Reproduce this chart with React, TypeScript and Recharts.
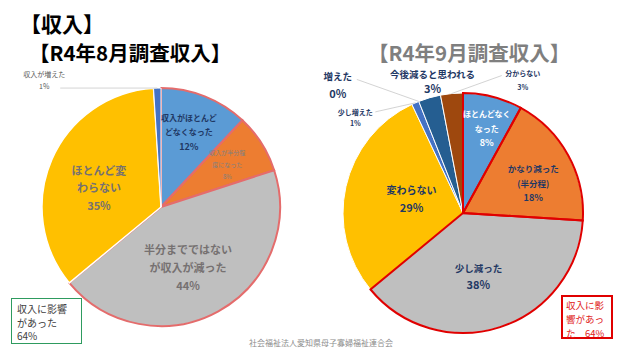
import React from 'react'
import { PieChart, Pie, Cell } from 'recharts'

const FONT = '"Noto Sans CJK JP", "Noto Sans", sans-serif'
const NAVY = '#1F3864'

// R4年8月調査
const AUG_CATEGORIES = [
  '収入がほとんどなくなった',
  '収入が半分程度になった',
  '半分までではないが収入が減った',
  'ほとんど変わらない',
  '収入が増えた',
]
const AUG_VALUES = [12, 8, 44, 35, 1]
const AUG_LABEL_LINES = [
  ['収入がほとんど', 'どなくなった'],
  ['収入が半分程', '度になった'],
  ['半分までではない', 'が収入が減った'],
  ['ほとんど変', 'わらない'],
  ['収入が増えた'],
]
const AUG_COLORS = ['#5B9BD5', '#ED7D31', '#BFBFBF', '#FFC000', '#4472C4']

// R4年9月調査
const SEP_CATEGORIES = [
  'ほとんどなくなった',
  'かなり減った（半分程）',
  '少し減った',
  '変わらない',
  '少し増えた',
  '増えた',
  '今後減ると思われる',
  '分からない',
]
const SEP_VALUES = [8, 18, 38, 29, 1, 0, 3, 3]
const SEP_LABEL_LINES = [
  ['ほとんどなく', 'なった'],
  ['かなり減った', '(半分程)'],
  ['少し減った'],
  ['変わらない'],
  ['少し増えた'],
  ['増えた'],
  ['今後減ると思われる'],
  ['分からない'],
]
const SEP_COLORS = ['#5B9BD5', '#ED7D31', '#BFBFBF', '#FFC000', '#4472C4', '#A5A5A5', '#255E91', '#9E480E']

const augData = AUG_CATEGORIES.map((name, i) => ({ name, value: AUG_VALUES[i] }))
const sepData = SEP_CATEGORIES.map((name, i) => ({ name, value: SEP_VALUES[i] }))

interface LabelStyle {
  f: number
  dx: number
  dy: number
  size: number
  pctSize?: number
  color: string
  weight: number
  gap: number
  leader?: [number, number]
}

const AUG_LABEL_STYLE: LabelStyle[] = [
  { f: 0.66, dx: -1, dy: -2, size: 8, pctSize: 9, color: NAVY, weight: 700, gap: 14.5 },
  { f: 0.66, dx: 0, dy: 0, size: 6, color: '#808080', weight: 400, gap: 12 },
  { f: 0.56, dx: -5, dy: 2, size: 11, color: '#767171', weight: 700, gap: 18 },
  { f: 0.55, dx: -2, dy: 6, size: 11, color: '#767171', weight: 700, gap: 17.5 },
  { f: 1, dx: -113, dy: -8, size: 7, color: '#595959', weight: 400, gap: 12, leader: [-97, 0] },
]

const SEP_LABEL_STYLE: LabelStyle[] = [
  { f: 0.73, dx: 2, dy: 0, size: 8, pctSize: 9, color: '#FFFFFF', weight: 700, gap: 14.5 },
  { f: 0.63, dx: 4, dy: 6, size: 8.5, pctSize: 9, color: NAVY, weight: 700, gap: 15 },
  { f: 0.55, dx: -5, dy: 0, size: 9.5, pctSize: 11, color: NAVY, weight: 700, gap: 16 },
  { f: 0.44, dx: 0, dy: -3, size: 10, pctSize: 11, color: NAVY, weight: 700, gap: 17 },
  { f: 1, dx: -60, dy: 14.5, size: 7, color: NAVY, weight: 700, gap: 11, leader: [-40, 9] },
  { f: 1, dx: -81, dy: -17, size: 9.5, pctSize: 11, color: NAVY, weight: 700, gap: 17, leader: [-62, -22] },
  { f: 1, dx: 3, dy: -17, size: 9.5, pctSize: 11, color: NAVY, weight: 700, gap: 14 },
  { f: 1, dx: 71, dy: -13.5, size: 7, color: NAVY, weight: 700, gap: 14, leader: [50, -18] },
]

function makeLabel(lines: string[][], styles: LabelStyle[]) {
  return (props: any) => {
    const { cx, cy, midAngle, outerRadius, index, value } = props
    const s = styles[index]
    const rad = (midAngle * Math.PI) / 180
    const r = outerRadius * s.f
    const ax = cx + r * Math.cos(rad)
    const ay = cy - r * Math.sin(rad)
    const tx = ax + s.dx
    const ty = ay + s.dy
    const all = [...lines[index], `${value}%`]
    const n = all.length
    return (
      <g key={`lbl-${index}`}>
        {s.leader && (
          <line
            x1={ax}
            y1={ay}
            x2={ax + s.leader[0]}
            y2={ay + s.leader[1]}
            stroke="#C8C8C8"
            strokeWidth={0.8}
          />
        )}
        {all.map((t, i) => (
          <text
            key={i}
            x={tx}
            y={ty + (i - (n - 1) / 2) * s.gap}
            textAnchor="middle"
            dominantBaseline="central"
            fill={s.color}
            fontWeight={s.weight}
            fontFamily={FONT}
            fontSize={i === n - 1 && s.pctSize ? s.pctSize : s.size}
          >
            {t}
          </text>
        ))}
      </g>
    )
  }
}

const AUG_STROKES = ['#E46C6C', '#E46C6C', '#E46C6C', '#FFFFFF', '#FFFFFF']
const AUG_STROKE_W = [2, 2, 2, 1.5, 1]

export default function App() {
  return (
    <div
      style={{
        position: 'absolute',
        left: 0,
        top: 0,
        width: 640,
        height: 360,
        background: '#FFFFFF',
        fontFamily: FONT,
      }}
    >
      <PieChart width={640} height={360} margin={{ top: 0, right: 0, bottom: 0, left: 0 }}>
        <Pie
          data={augData}
          dataKey="value"
          nameKey="name"
          cx={161}
          cy={207}
          outerRadius={119}
          startAngle={90}
          endAngle={-270}
          isAnimationActive={false}
          labelLine={false}
          label={makeLabel(AUG_LABEL_LINES, AUG_LABEL_STYLE)}
        >
          {augData.map((d, i) => (
            <Cell key={d.name} fill={AUG_COLORS[i]} stroke={AUG_STROKES[i]} strokeWidth={AUG_STROKE_W[i]} />
          ))}
        </Pie>
        <Pie
          data={sepData}
          dataKey="value"
          nameKey="name"
          cx={463}
          cy={213}
          outerRadius={120}
          startAngle={90}
          endAngle={-270}
          isAnimationActive={false}
          labelLine={false}
          label={makeLabel(SEP_LABEL_LINES, SEP_LABEL_STYLE)}
        >
          {sepData.map((d, i) => (
            <Cell key={d.name} fill={SEP_COLORS[i]} stroke="#FFFFFF" strokeWidth={1} />
          ))}
        </Pie>
        {/* red outline around the "affected" slices */}
        <Pie
          data={sepData}
          dataKey="value"
          nameKey="name"
          cx={463}
          cy={213}
          outerRadius={120}
          startAngle={90}
          endAngle={-270}
          isAnimationActive={false}
          labelLine={false}
          label={false}
        >
          {sepData.map((d, i) => (
            <Cell
              key={d.name}
              fill="none"
              stroke={i < 3 ? '#E00000' : 'none'}
              strokeWidth={2}
            />
          ))}
        </Pie>
      </PieChart>

      <div style={{ position: 'absolute', left: 20, top: 12, fontSize: 21, lineHeight: '22px', fontWeight: 700, color: '#000' }}>
        【収入】
      </div>
      <div style={{ position: 'absolute', left: 29, top: 41, fontSize: 20.5, lineHeight: '22px', fontWeight: 700, color: '#000' }}>
        【R4年8月調査収入】
      </div>
      <div style={{ position: 'absolute', left: 368, top: 41, fontSize: 20.5, lineHeight: '22px', fontWeight: 700, color: '#7F7F7F' }}>
        【R4年9月調査収入】
      </div>

      <div
        style={{
          position: 'absolute',
          left: 11,
          top: 298,
          width: 71,
          height: 46,
          boxSizing: 'border-box',
          border: '1.5px solid #2E9B5F',
          padding: '3px 0 0 5px',
          fontSize: 10,
          lineHeight: '13.5px',
          color: '#404040',
          whiteSpace: 'nowrap',
        }}
      >
        <div>収入に影響</div>
        <div>があった</div>
        <div>64%</div>
      </div>

      <div
        style={{
          position: 'absolute',
          left: 561,
          top: 295,
          width: 52,
          height: 44,
          boxSizing: 'border-box',
          border: '2px solid #E00000',
          padding: '1px 0 0 3px',
          fontSize: 9.5,
          lineHeight: '14px',
          color: '#E02020',
          whiteSpace: 'nowrap',
        }}
      >
        <div>収入に影</div>
        <div>響があっ</div>
        <div>た　64%</div>
      </div>

      <div
        style={{
          position: 'absolute',
          left: 0,
          width: 642,
          top: 338,
          textAlign: 'center',
          fontSize: 8,
          lineHeight: '10px',
          color: '#8C8C8C',
        }}
      >
        社会福祉法人愛知県母子寡婦福祉連合会
      </div>
    </div>
  )
}
